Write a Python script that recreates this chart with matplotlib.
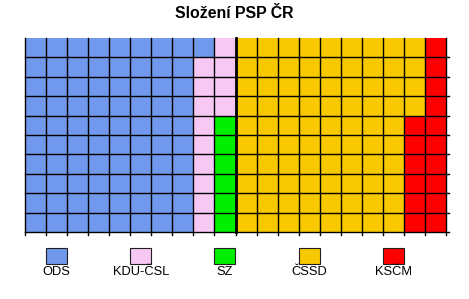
import numpy as np
import matplotlib
matplotlib.use("Agg")
import matplotlib.pyplot as plt
from matplotlib.colors import ListedColormap
from matplotlib.patches import Rectangle

plt.rcParams['font.family'] = ['Liberation Sans', 'DejaVu Sans']

# seats per party (200 seats, 10 rows x 20 columns, filled column by column)
parties = ["ODS", "KDU-ČSL", "SZ", "ČSSD", "KSČM"]
seats = [81, 13, 6, 84, 16]
colors = ["#7098ec", "#f8c8f4", "#00ee00", "#f8c800", "#ff0000"]
n_rows, n_cols = 10, 20

# build the seat grid: column-major, top to bottom
flat = np.repeat(np.arange(len(parties)), seats)
grid = flat.reshape(n_cols, n_rows).T

W, H = 469, 299
fig = plt.figure(figsize=(W / 100, H / 100), dpi=100)

ax = fig.add_axes([25 / W, 1 - 232 / H, 421 / W, 194 / H])
ax.pcolormesh(np.arange(n_cols + 1), np.arange(n_rows + 1), grid,
              cmap=ListedColormap(colors), vmin=-0.5, vmax=len(parties) - 0.5)
ax.set_xlim(0, n_cols)
ax.set_ylim(n_rows, 0)
ax.axis("off")

# grid lines (no top border), small overhang at bottom and right
for c in range(n_cols + 1):
    ax.plot([c, c], [0, n_rows + 0.15], color="black", lw=1.0, clip_on=False)
for r in range(1, n_rows + 1):
    ax.plot([0, n_cols + 0.12], [r, r], color="black", lw=1.0, clip_on=False)

# majority line after 100 seats
ax.plot([10, 10], [0, n_rows], color="black", lw=2.0, clip_on=False)

fig.text(0.5, 1 - 14 / H, "Složení PSP ČR", ha="center", va="center",
         fontsize=11.4, fontweight="bold")

# legend
for i, (name, col) in enumerate(zip(parties, colors)):
    cx = 56.5 + i * 84.2
    fig.patches.append(Rectangle(((cx - 10.5) / W, 1 - 264 / H), 21 / W, 16 / H,
                                 transform=fig.transFigure, facecolor=col,
                                 edgecolor="#202020", lw=0.8))
    fig.text(cx / W, 1 - 272 / H, name, ha="center", va="center", fontsize=9.3)

fig.savefig("out.png", dpi=100)
